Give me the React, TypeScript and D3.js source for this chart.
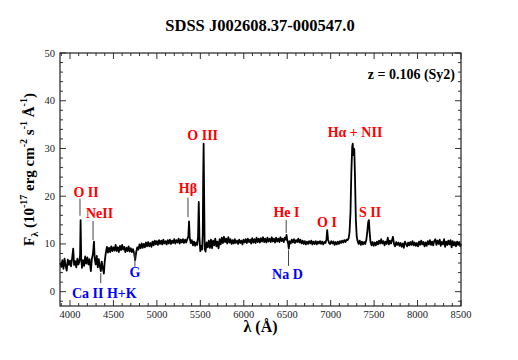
import React from "react";
import { scaleLinear, line, range } from "d3";

const width = 518;
const height = 360;
const margin = { top: 53, right: 57, bottom: 54, left: 60 };
const innerWidth = width - margin.left - margin.right;
const innerHeight = height - margin.top - margin.bottom;

const title = "SDSS J002608.37-000547.0";
const redshiftLabel = "z = 0.106 (Sy2)";

const xTicks = [4000, 4500, 5000, 5500, 6000, 6500, 7000, 7500, 8000, 8500];
const yTicks = [0, 10, 20, 30, 40, 50];

// [wavelength (A), flux (1e-17 erg/cm2/s/A)]
const spectrum: [number, number][] = [
  [3888, 6.0], [3900, 5.2], [3912, 6.6], [3925, 4.8], [3937, 6.9], [3950, 5.4],
  [3962, 4.4], [3975, 6.7], [3987, 5.6], [4000, 6.5], [4012, 5.3], [4025, 7.1],
  [4037, 9.0], [4047, 5.6], [4060, 6.4], [4072, 5.1], [4085, 6.9], [4097, 5.7],
  [4108, 6.3], [4116, 7.6], [4122, 15.0], [4129, 7.1], [4138, 5.0], [4150, 6.6],
  [4162, 5.4], [4175, 7.4], [4187, 5.9], [4200, 7.2], [4212, 5.7], [4225, 6.8],
  [4240, 4.3], [4252, 6.9], [4264, 7.9], [4276, 10.5], [4284, 7.0], [4296, 5.7],
  [4308, 7.5], [4320, 5.1], [4332, 6.8], [4345, 5.2], [4355, 4.3], [4366, 6.3],
  [4378, 4.9], [4390, 3.8], [4400, 6.4], [4412, 8.1], [4425, 9.4], [4437, 8.2],
  [4450, 9.2], [4462, 8.3], [4475, 9.5], [4487, 8.5], [4500, 9.3], [4512, 8.6],
  [4525, 9.8], [4537, 8.5], [4550, 9.3], [4562, 8.3], [4575, 9.6], [4587, 8.7],
  [4600, 9.8], [4612, 8.8], [4625, 9.4], [4637, 8.3], [4650, 9.2], [4662, 8.5],
  [4675, 9.5], [4687, 8.4], [4700, 9.1], [4712, 8.3], [4725, 8.9], [4737, 8.2],
  [4750, 6.6], [4762, 8.3], [4775, 9.3], [4787, 8.8], [4800, 9.9], [4812, 9.1],
  [4825, 10.1], [4837, 9.2], [4850, 10.0], [4862, 9.3], [4875, 10.3], [4887, 9.5],
  [4900, 10.4], [4912, 9.5], [4925, 10.2], [4937, 9.4], [4950, 10.5], [4962, 9.7],
  [4975, 10.7], [4987, 9.9], [5000, 10.6], [5012, 9.8], [5025, 10.8], [5037, 10.0],
  [5050, 10.7], [5062, 9.9], [5075, 10.9], [5087, 10.1], [5100, 10.6], [5112, 9.9],
  [5125, 10.8], [5137, 10.1], [5150, 10.9], [5162, 10.0], [5175, 10.7], [5187, 10.2],
  [5200, 11.0], [5212, 10.1], [5225, 10.8], [5237, 10.3], [5250, 11.1], [5262, 10.1],
  [5275, 10.9], [5287, 10.3], [5300, 11.0], [5312, 10.2], [5325, 10.9], [5337, 10.3],
  [5350, 11.0], [5362, 11.6], [5370, 14.7], [5378, 11.3], [5390, 10.2], [5402, 10.8],
  [5415, 9.7], [5427, 10.5], [5440, 9.6], [5452, 10.3], [5464, 9.8], [5474, 11.6],
  [5482, 18.8], [5490, 11.2], [5500, 8.5], [5510, 9.6], [5520, 8.8], [5528, 12.0],
  [5533, 24.0], [5538, 31.0], [5544, 20.0], [5550, 9.0], [5560, 8.4], [5572, 10.3],
  [5585, 9.3], [5597, 10.7], [5610, 9.2], [5622, 10.9], [5635, 9.1], [5647, 10.7],
  [5660, 9.7], [5672, 11.1], [5685, 9.5], [5697, 10.5], [5710, 9.1], [5722, 11.0],
  [5735, 9.9], [5747, 11.3], [5760, 10.2], [5772, 11.5], [5785, 10.4], [5797, 11.1],
  [5810, 10.1], [5822, 11.4], [5835, 10.3], [5847, 11.0], [5860, 10.0], [5872, 10.8],
  [5885, 10.1], [5897, 11.0], [5910, 10.2], [5922, 10.7], [5935, 10.0], [5947, 10.9],
  [5960, 10.2], [5972, 10.7], [5985, 9.9], [5997, 10.9], [6010, 10.3], [6022, 11.0],
  [6035, 10.2], [6047, 11.1], [6060, 10.4], [6072, 10.9], [6085, 10.1], [6097, 11.2],
  [6110, 10.3], [6122, 11.0], [6135, 10.2], [6147, 11.3], [6160, 10.4], [6172, 11.1],
  [6185, 10.3], [6197, 11.2], [6210, 10.5], [6222, 11.4], [6235, 10.4], [6247, 11.1],
  [6260, 10.3], [6272, 11.3], [6285, 10.5], [6297, 11.1], [6310, 10.4], [6322, 11.4],
  [6335, 10.5], [6347, 11.1], [6360, 10.3], [6372, 11.3], [6385, 10.5], [6397, 11.1],
  [6410, 10.4], [6422, 11.4], [6435, 10.6], [6447, 11.1], [6460, 10.4], [6472, 11.3],
  [6484, 10.9], [6492, 11.9], [6500, 10.8], [6510, 10.2], [6518, 9.0], [6527, 10.6],
  [6540, 10.1], [6552, 10.9], [6565, 10.3], [6577, 11.0], [6590, 10.2], [6602, 10.8],
  [6615, 10.4], [6627, 11.1], [6640, 10.3], [6652, 10.9], [6665, 10.1], [6677, 10.7],
  [6690, 10.0], [6702, 10.6], [6715, 9.9], [6727, 10.5], [6740, 10.0], [6752, 10.6],
  [6765, 10.1], [6777, 10.7], [6790, 9.9], [6802, 10.5], [6815, 10.0], [6827, 10.6],
  [6840, 9.9], [6852, 10.5], [6865, 10.1], [6877, 10.6], [6890, 10.0], [6902, 10.5],
  [6915, 9.9], [6927, 10.4], [6940, 10.2], [6952, 11.0], [6960, 12.9], [6970, 10.9],
  [6982, 10.2], [6995, 10.0], [7007, 10.6], [7020, 10.1], [7032, 10.5], [7045, 9.8],
  [7057, 10.4], [7070, 9.9], [7082, 10.5], [7095, 10.0], [7107, 10.6], [7120, 10.2],
  [7132, 10.7], [7145, 10.3], [7157, 10.8], [7170, 10.4], [7182, 10.9], [7195, 10.8],
  [7207, 11.2], [7217, 12.4], [7228, 16.5], [7238, 25.0], [7248, 30.4], [7254, 31.0],
  [7260, 28.6], [7266, 30.0], [7272, 29.8], [7280, 24.0], [7290, 15.0], [7300, 11.5],
  [7310, 10.6], [7322, 10.0], [7335, 10.7], [7347, 9.8], [7360, 10.5], [7372, 9.9],
  [7385, 10.4], [7397, 10.0], [7410, 10.8], [7422, 12.6], [7432, 14.6], [7440, 15.0],
  [7448, 12.6], [7458, 10.5], [7470, 9.7], [7482, 10.4], [7495, 9.6], [7507, 10.3],
  [7520, 9.7], [7532, 10.5], [7545, 9.9], [7557, 10.7], [7570, 10.1], [7582, 11.0],
  [7595, 10.1], [7607, 10.6], [7620, 9.7], [7632, 10.5], [7645, 10.0], [7657, 11.3],
  [7670, 9.9], [7682, 10.7], [7695, 10.1], [7707, 10.9], [7717, 11.5], [7730, 9.9],
  [7742, 9.5], [7755, 10.4], [7767, 9.8], [7780, 10.3], [7792, 9.6], [7805, 10.2],
  [7817, 9.4], [7830, 10.1], [7842, 9.2], [7855, 10.5], [7867, 10.0], [7880, 9.5],
  [7892, 10.3], [7905, 9.7], [7917, 10.4], [7930, 9.8], [7942, 10.6], [7955, 9.7],
  [7967, 10.3], [7980, 9.6], [7992, 10.2], [8005, 9.5], [8017, 10.5], [8030, 9.8],
  [8042, 10.7], [8055, 9.9], [8067, 10.4], [8080, 9.5], [8092, 10.3], [8105, 9.6],
  [8117, 10.6], [8130, 9.9], [8142, 10.8], [8155, 9.8], [8167, 10.5], [8180, 9.7],
  [8192, 10.6], [8205, 11.0], [8217, 9.8], [8230, 10.7], [8242, 10.0], [8255, 10.9],
  [8267, 9.6], [8280, 10.4], [8292, 9.9], [8305, 11.0], [8317, 9.4], [8330, 10.5],
  [8342, 9.8], [8355, 10.7], [8367, 9.9], [8380, 10.8], [8392, 9.3], [8405, 10.6],
  [8417, 9.7], [8430, 10.4], [8442, 9.5], [8455, 10.5], [8467, 9.8], [8480, 10.4],
  [8492, 9.5], [8500, 10.0],
];

// emission lines (red) and absorption features (blue): label centre, label baseline, marker line
const emissionLabels = [
  { text: "O II", x: 4185, y: 19.8, mark: [4115, 19.5, 15.9] },
  { text: "NeII", x: 4340, y: 15.4, mark: [4265, 14.8, 10.8] },
  { text: "Hβ", x: 5358, y: 20.7, mark: [5358, 19.7, 15.6] },
  { text: "O III", x: 5527, y: 31.8, mark: null },
  { text: "He I", x: 6492, y: 15.6, mark: [6488, 15.0, 12.3] },
  { text: "O I", x: 6958, y: 13.5, mark: null },
  { text: "Hα + NII", x: 7280, y: 32.5, mark: null },
  { text: "S II", x: 7453, y: 15.7, mark: null },
];

const absorptionLabels = [
  { text: "Ca II H+K", x: 4395, y: -1.4, mark: [4354, 3.9, 1.8] },
  { text: "G", x: 4747, y: 3.0, mark: [4747, 8.3, 5.2] },
  { text: "Na D", x: 6503, y: 2.6, mark: [6515, 8.7, 5.4] },
];

const xScale = scaleLinear().domain([3885, 8500]).range([0, innerWidth]);
const yScale = scaleLinear().domain([-3, 50]).range([innerHeight, 0]);

const serif = "'Liberation Serif', 'Times New Roman', serif";

const App = () => {
  const path = line<[number, number]>()
    .x(d => xScale(d[0]))
    .y(d => yScale(d[1]))(spectrum);

  const xMinor = range(3900, 8501, 100);
  const yMinor = range(-2, 51, 2);

  const renderLabel = (l, color) => (
    <g key={l.text}>
      <text
        x={xScale(l.x)}
        y={yScale(l.y)}
        textAnchor="middle"
        fontFamily={serif}
        fontWeight="bold"
        fontSize={14}
        fill={color}
      >
        {l.text}
      </text>
      {l.mark && (
        <line
          x1={xScale(l.mark[0])}
          x2={xScale(l.mark[0])}
          y1={yScale(l.mark[1])}
          y2={yScale(l.mark[2])}
          stroke="#444"
          strokeWidth={1}
        />
      )}
    </g>
  );

  return (
    <svg width={width} height={height} style={{ position: "absolute", left: 0, top: 0 }}>
      <rect width={width} height={height} fill="white" />
      <text x={260} y={31} textAnchor="middle" fontFamily={serif} fontWeight="bold" fontSize={16.5}>
        {title}
      </text>
      <g transform={`translate(${margin.left},${margin.top})`}>
        {xMinor.map(t => (
          <g key={"xm" + t}>
            <line x1={xScale(t)} x2={xScale(t)} y1={innerHeight} y2={innerHeight - (t % 500 === 0 ? 6 : 3)} stroke="#333" />
            <line x1={xScale(t)} x2={xScale(t)} y1={0} y2={t % 500 === 0 ? 6 : 3} stroke="#333" />
          </g>
        ))}
        {yMinor.map(t => (
          <g key={"ym" + t}>
            <line x1={0} x2={t % 10 === 0 ? 6 : 3} y1={yScale(t)} y2={yScale(t)} stroke="#333" />
            <line x1={innerWidth} x2={innerWidth - (t % 10 === 0 ? 6 : 3)} y1={yScale(t)} y2={yScale(t)} stroke="#333" />
          </g>
        ))}
        {xTicks.map(t => (
          <text key={"xt" + t} x={xScale(t)} y={innerHeight + 12} textAnchor="middle" fontFamily={serif} fontSize={10.5} fill="#222">
            {t}
          </text>
        ))}
        {yTicks.map(t => (
          <text key={"yt" + t} x={-5} y={yScale(t) + 3.5} textAnchor="end" fontFamily={serif} fontSize={10.5} fill="#222">
            {t}
          </text>
        ))}
        <path d={path} fill="none" stroke="black" strokeWidth={1.8} strokeLinejoin="round" />
        {emissionLabels.map(l => renderLabel(l, "#f00"))}
        {absorptionLabels.map(l => renderLabel(l, "#00f"))}
        <text x={innerWidth - 6} y={yScale(44.6)} textAnchor="end" fontFamily={serif} fontWeight="bold" fontSize={14}>
          {redshiftLabel}
        </text>
        <rect width={innerWidth} height={innerHeight} fill="none" stroke="#222" strokeWidth={1.2} />
        <text x={innerWidth / 2} y={innerHeight + 26} textAnchor="middle" fontFamily={serif} fontWeight="bold" fontSize={16}>
          λ (Å)
        </text>
        <text
          transform={`translate(-26,${innerHeight / 2 - 10}) rotate(-90)`}
          textAnchor="middle"
          fontFamily={serif}
          fontWeight="bold"
          fontSize={15}
        >
          F<tspan fontSize={10} dy={4}>λ</tspan>
          <tspan dy={-4}> (10</tspan>
          <tspan fontSize={10} dy={-7}>-17</tspan>
          <tspan dy={7}> erg cm</tspan>
          <tspan fontSize={10} dy={-7}>-2</tspan>
          <tspan dy={7}> s</tspan>
          <tspan fontSize={10} dy={-7}>-1</tspan>
          <tspan dy={7}> Å</tspan>
          <tspan fontSize={10} dy={-7}>-1</tspan>
          <tspan dy={7}>)</tspan>
        </text>
      </g>
    </svg>
  );
};

export default App;
